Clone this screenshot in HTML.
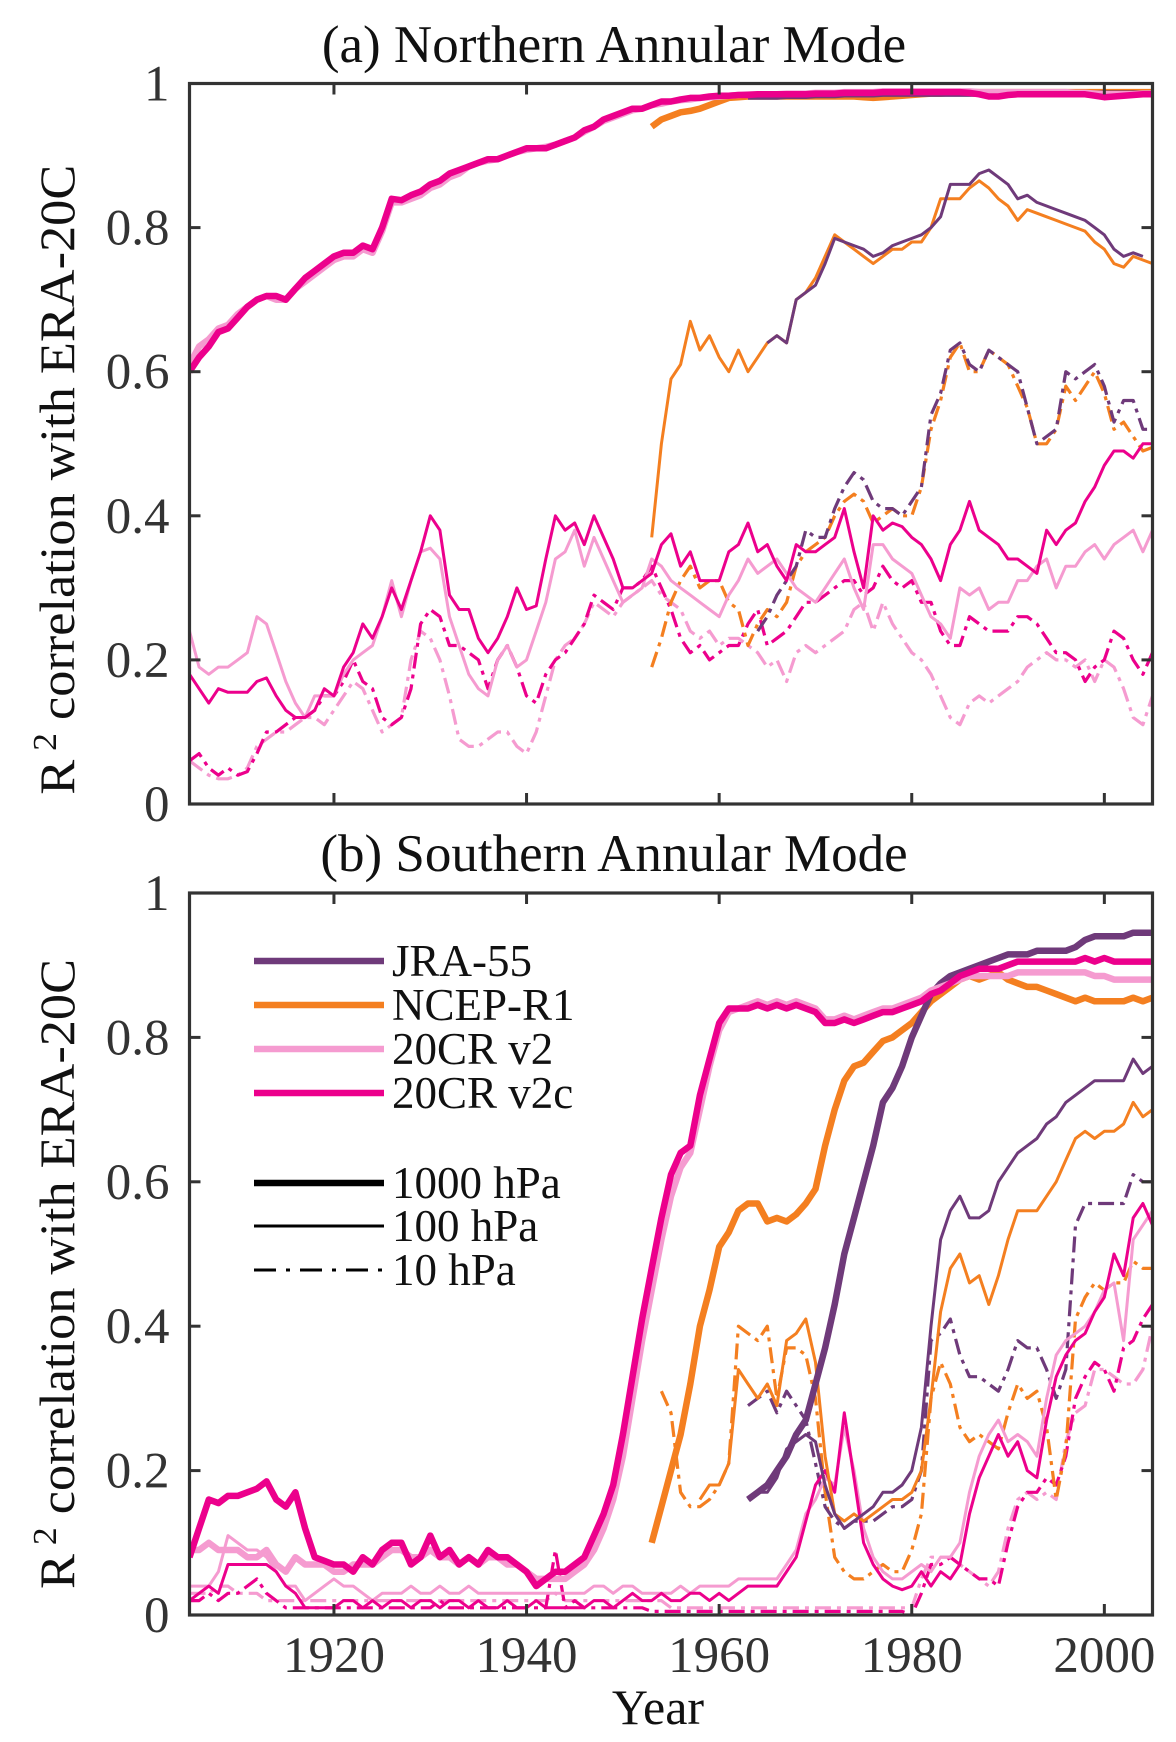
<!DOCTYPE html>
<html><head><meta charset="utf-8">
<style>
html,body{margin:0;padding:0;background:#fff;}
svg{display:block;font-family:"Liberation Serif","Times New Roman",serif;}
</style></head>
<body>
<svg id="fig" width="1176" height="1742" viewBox="0 0 1176 1742" xmlns="http://www.w3.org/2000/svg">
</svg>
<script>
// ---------- data ----------
const xTicks = [1920, 1940, 1960, 1980, 2000];
const yTicks = [0, 0.2, 0.4, 0.6, 0.8, 1];
const yTickLabels = ["0", "0.2", "0.4", "0.6", "0.8", "1"];
const datasets = ["JRA-55", "NCEP-R1", "20CR v2", "20CR v2c"];
const levels = ["1000 hPa", "100 hPa", "10 hPa"];

// Panel (a) NAM
const aStart = {jra1000:1963, jra100:1965, jra10:1964, ncep1000:1953, ncep100:1953, ncep10:1953, v21000:1905, v2100:1905, v210:1905, v2c1000:1905, v2c100:1905, v2c10:1905};
const a_v2c1000 = [0.60,0.62,0.635,0.655,0.66,0.675,0.69,0.70,0.705,0.705,0.70,0.715,0.73,0.74,0.75,0.76,0.765,0.765,0.775,0.77,0.80,0.84,0.838,0.845,0.85,0.86,0.865,0.875,0.88,0.885,0.89,0.895,0.895,0.90,0.905,0.91,0.91,0.91,0.915,0.92,0.925,0.935,0.94,0.95,0.955,0.96,0.965,0.965,0.97,0.975,0.975,0.978,0.98,0.98,0.982,0.983,0.983,0.984,0.984,0.985,0.985,0.985,0.985,0.985,0.985,0.986,0.986,0.986,0.987,0.987,0.987,0.987,0.988,0.988,0.988,0.988,0.988,0.988,0.988,0.988,0.988,0.987,0.985,0.982,0.982,0.984,0.985,0.985,0.985,0.985,0.985,0.985,0.985,0.985,0.983,0.981,0.982,0.983,0.984,0.985,0.985];
const a_v21000 = [0.61,0.635,0.645,0.66,0.665,0.68,0.69,0.70,0.705,0.70,0.70,0.715,0.725,0.735,0.745,0.755,0.76,0.76,0.77,0.765,0.795,0.835,0.835,0.84,0.845,0.855,0.86,0.87,0.875,0.885,0.89,0.893,0.895,0.90,0.905,0.908,0.91,0.912,0.915,0.92,0.925,0.933,0.94,0.948,0.953,0.958,0.963,0.965,0.97,0.972,0.975,0.977,0.978,0.98,0.981,0.982,0.983,0.984,0.985,0.985,0.985,0.985,0.986,0.986,0.986,0.987,0.987,0.987,0.988,0.988,0.988,0.988,0.989,0.989,0.989,0.989,0.989,0.989,0.989,0.989,0.989,0.989,0.988,0.988,0.988,0.988,0.988,0.988,0.988,0.988,0.988,0.988,0.987,0.987,0.986,0.985,0.985,0.985,0.985,0.986,0.986];
const a_jra1000 = [0.982,0.982,0.982,0.982,0.983,0.983,0.983,0.984,0.984,0.984,0.985,0.985,0.985,0.985,0.986,0.986,0.986,0.986,0.986,0.986,0.986,0.986,0.986,0.986,0.986,0.986,0.986,0.986,0.986,0.986,0.986,0.986,0.986,0.986,0.986,0.986,0.986,0.986,0.986,0.986,0.986,0.986,0.986];
const a_ncep1000 = [0.94,0.95,0.955,0.96,0.962,0.965,0.97,0.975,0.98,0.981,0.982,0.982,0.982,0.982,0.982,0.982,0.982,0.982,0.982,0.982,0.982,0.982,0.981,0.98,0.981,0.982,0.983,0.984,0.985,0.986,0.986,0.987,0.987,0.988,0.988,0.988,0.988,0.988,0.988,0.988,0.988,0.988,0.988,0.988,0.988,0.988,0.988,0.988,0.988,0.988,0.988,0.988,0.988];
const a_ncep100 = [0.37,0.50,0.59,0.61,0.67,0.63,0.65,0.62,0.60,0.63,0.60,0.62,0.64,0.65,0.64,0.70,0.71,0.73,0.76,0.79,0.78,0.77,0.76,0.75,0.76,0.77,0.77,0.78,0.78,0.80,0.84,0.84,0.84,0.855,0.865,0.855,0.84,0.83,0.81,0.825,0.82,0.815,0.81,0.805,0.80,0.795,0.78,0.77,0.75,0.745,0.76,0.755,0.75];
const a_jra100 = [0.64,0.65,0.64,0.70,0.71,0.72,0.75,0.785,0.78,0.775,0.77,0.76,0.765,0.775,0.78,0.785,0.79,0.80,0.815,0.86,0.86,0.86,0.875,0.88,0.87,0.86,0.84,0.845,0.835,0.83,0.825,0.82,0.815,0.81,0.80,0.79,0.77,0.76,0.765,0.76];
const a_v2c100 = [0.18,0.16,0.14,0.16,0.155,0.155,0.155,0.17,0.175,0.15,0.13,0.12,0.12,0.13,0.16,0.15,0.19,0.21,0.25,0.23,0.26,0.30,0.27,0.31,0.35,0.40,0.38,0.29,0.27,0.27,0.23,0.21,0.23,0.26,0.30,0.27,0.275,0.34,0.40,0.38,0.39,0.36,0.40,0.37,0.34,0.30,0.30,0.31,0.32,0.36,0.375,0.33,0.35,0.31,0.31,0.31,0.35,0.36,0.39,0.35,0.36,0.33,0.31,0.36,0.35,0.35,0.36,0.37,0.41,0.35,0.30,0.40,0.38,0.39,0.385,0.37,0.36,0.34,0.31,0.36,0.38,0.42,0.38,0.37,0.36,0.34,0.34,0.33,0.32,0.38,0.36,0.38,0.39,0.42,0.44,0.47,0.49,0.49,0.48,0.50,0.50];
const a_v2100 = [0.24,0.19,0.18,0.19,0.19,0.20,0.21,0.26,0.25,0.21,0.17,0.14,0.12,0.15,0.15,0.15,0.18,0.20,0.21,0.22,0.26,0.31,0.26,0.31,0.35,0.355,0.34,0.26,0.22,0.18,0.16,0.15,0.20,0.22,0.19,0.20,0.24,0.28,0.34,0.35,0.38,0.33,0.37,0.34,0.31,0.28,0.29,0.30,0.34,0.33,0.31,0.30,0.29,0.28,0.27,0.26,0.29,0.31,0.34,0.32,0.33,0.34,0.32,0.30,0.29,0.28,0.30,0.32,0.34,0.30,0.27,0.36,0.36,0.34,0.33,0.32,0.29,0.26,0.25,0.23,0.30,0.29,0.30,0.27,0.28,0.28,0.31,0.31,0.33,0.34,0.30,0.33,0.33,0.35,0.36,0.34,0.36,0.37,0.38,0.35,0.38];
const a_ncep10 = [0.19,0.23,0.28,0.31,0.33,0.30,0.31,0.31,0.28,0.27,0.22,0.25,0.27,0.26,0.28,0.33,0.35,0.36,0.37,0.40,0.42,0.43,0.42,0.39,0.40,0.41,0.40,0.40,0.44,0.52,0.56,0.62,0.64,0.60,0.60,0.63,0.62,0.61,0.58,0.55,0.50,0.50,0.52,0.58,0.56,0.58,0.60,0.57,0.52,0.53,0.51,0.49,0.495];
const a_jra10 = [0.24,0.26,0.29,0.31,0.33,0.38,0.37,0.37,0.41,0.44,0.46,0.45,0.42,0.41,0.41,0.40,0.42,0.44,0.54,0.57,0.63,0.64,0.61,0.60,0.63,0.62,0.61,0.60,0.55,0.50,0.51,0.52,0.60,0.59,0.60,0.61,0.58,0.53,0.56,0.56,0.52,0.52];
const a_v2c10 = [0.06,0.07,0.05,0.04,0.05,0.04,0.045,0.07,0.10,0.10,0.11,0.12,0.12,0.13,0.15,0.15,0.17,0.20,0.17,0.16,0.12,0.11,0.12,0.16,0.25,0.27,0.26,0.22,0.22,0.21,0.20,0.16,0.20,0.22,0.19,0.15,0.14,0.18,0.20,0.21,0.23,0.25,0.29,0.28,0.27,0.30,0.30,0.31,0.33,0.30,0.27,0.23,0.21,0.22,0.20,0.21,0.22,0.22,0.25,0.27,0.22,0.23,0.24,0.26,0.28,0.28,0.29,0.30,0.31,0.31,0.29,0.30,0.33,0.31,0.30,0.31,0.28,0.28,0.24,0.22,0.22,0.26,0.25,0.24,0.24,0.24,0.26,0.26,0.25,0.23,0.21,0.21,0.20,0.17,0.19,0.20,0.24,0.23,0.20,0.18,0.21];
const a_v210 = [0.06,0.05,0.04,0.035,0.035,0.04,0.05,0.08,0.09,0.10,0.10,0.11,0.12,0.12,0.11,0.13,0.15,0.17,0.16,0.13,0.10,0.11,0.12,0.20,0.24,0.23,0.20,0.15,0.09,0.08,0.08,0.09,0.10,0.10,0.08,0.07,0.10,0.15,0.20,0.22,0.23,0.25,0.28,0.27,0.26,0.28,0.29,0.30,0.31,0.29,0.28,0.27,0.24,0.23,0.24,0.22,0.23,0.23,0.22,0.21,0.19,0.20,0.17,0.21,0.22,0.21,0.22,0.23,0.24,0.27,0.28,0.24,0.28,0.25,0.23,0.21,0.20,0.18,0.15,0.12,0.11,0.14,0.15,0.14,0.15,0.16,0.17,0.19,0.20,0.21,0.20,0.20,0.19,0.20,0.17,0.20,0.19,0.16,0.12,0.11,0.15];

// Panel (b) SAM
const bStart = {jra1000:1963, jra100:1963, jra10:1963, ncep1000:1953, ncep100:1958, ncep10:1954, v21000:1905, v2100:1905, v210:1905, v2c1000:1905, v2c100:1905, v2c10:1905};
const b_v2c1000 = [0.08,0.12,0.16,0.155,0.165,0.165,0.17,0.175,0.185,0.16,0.15,0.17,0.12,0.08,0.075,0.07,0.07,0.06,0.08,0.07,0.09,0.10,0.10,0.07,0.08,0.11,0.08,0.09,0.07,0.08,0.07,0.09,0.08,0.08,0.07,0.06,0.04,0.05,0.06,0.06,0.07,0.08,0.11,0.14,0.18,0.25,0.33,0.41,0.48,0.55,0.61,0.64,0.65,0.72,0.77,0.82,0.84,0.84,0.84,0.845,0.84,0.845,0.84,0.845,0.84,0.835,0.82,0.82,0.825,0.82,0.825,0.83,0.835,0.835,0.84,0.845,0.85,0.86,0.865,0.875,0.885,0.89,0.895,0.895,0.895,0.90,0.905,0.905,0.905,0.905,0.905,0.905,0.905,0.91,0.905,0.91,0.905,0.905,0.905,0.905,0.905];
const b_v21000 = [0.09,0.09,0.10,0.09,0.09,0.09,0.08,0.08,0.09,0.07,0.06,0.08,0.07,0.07,0.07,0.06,0.06,0.07,0.07,0.07,0.08,0.09,0.09,0.08,0.08,0.09,0.08,0.08,0.07,0.08,0.07,0.08,0.08,0.07,0.07,0.06,0.05,0.05,0.05,0.05,0.06,0.07,0.09,0.12,0.16,0.22,0.30,0.38,0.45,0.52,0.58,0.62,0.64,0.70,0.76,0.81,0.835,0.84,0.845,0.85,0.845,0.85,0.845,0.85,0.845,0.84,0.825,0.825,0.83,0.825,0.83,0.835,0.84,0.84,0.845,0.85,0.855,0.865,0.87,0.875,0.88,0.885,0.885,0.885,0.885,0.885,0.89,0.89,0.89,0.89,0.89,0.89,0.89,0.89,0.885,0.885,0.88,0.88,0.88,0.88,0.88];
const b_ncep1000 = [0.10,0.15,0.20,0.25,0.32,0.40,0.45,0.51,0.53,0.56,0.57,0.57,0.545,0.55,0.545,0.555,0.57,0.59,0.65,0.70,0.74,0.76,0.765,0.78,0.795,0.80,0.81,0.82,0.835,0.85,0.86,0.87,0.88,0.885,0.88,0.885,0.89,0.88,0.875,0.87,0.87,0.865,0.86,0.855,0.85,0.855,0.85,0.85,0.85,0.85,0.855,0.85,0.855];
const b_jra1000 = [0.16,0.17,0.18,0.20,0.22,0.25,0.27,0.32,0.37,0.43,0.50,0.55,0.60,0.65,0.71,0.73,0.76,0.80,0.83,0.86,0.875,0.885,0.89,0.895,0.90,0.905,0.91,0.915,0.915,0.915,0.92,0.92,0.92,0.92,0.925,0.935,0.94,0.94,0.94,0.94,0.945,0.945,0.945];
const b_ncep100 = [0.16,0.18,0.18,0.21,0.34,0.32,0.30,0.32,0.29,0.38,0.39,0.41,0.35,0.22,0.14,0.13,0.14,0.13,0.14,0.15,0.16,0.16,0.17,0.20,0.30,0.42,0.48,0.50,0.46,0.47,0.43,0.47,0.52,0.56,0.56,0.56,0.58,0.60,0.63,0.66,0.67,0.66,0.67,0.67,0.68,0.71,0.69,0.70];
const b_jra100 = [0.16,0.17,0.17,0.19,0.23,0.24,0.25,0.24,0.18,0.14,0.12,0.13,0.14,0.15,0.17,0.17,0.18,0.20,0.26,0.40,0.52,0.56,0.58,0.55,0.55,0.56,0.60,0.62,0.64,0.65,0.66,0.68,0.69,0.71,0.72,0.73,0.74,0.74,0.74,0.74,0.77,0.75,0.76];
const b_v2c100 = [0.02,0.03,0.04,0.03,0.07,0.07,0.07,0.07,0.07,0.06,0.04,0.03,0.01,0.01,0.01,0.01,0.02,0.02,0.01,0.02,0.01,0.02,0.02,0.01,0.02,0.02,0.01,0.02,0.02,0.01,0.02,0.01,0.01,0.02,0.01,0.01,0.02,0.01,0.01,0.01,0.01,0.01,0.02,0.02,0.01,0.02,0.03,0.02,0.02,0.03,0.02,0.02,0.03,0.03,0.02,0.03,0.02,0.03,0.04,0.04,0.04,0.04,0.06,0.08,0.13,0.18,0.20,0.17,0.28,0.19,0.10,0.07,0.05,0.04,0.035,0.04,0.06,0.04,0.06,0.05,0.07,0.14,0.19,0.22,0.25,0.22,0.24,0.20,0.19,0.27,0.33,0.36,0.38,0.39,0.42,0.44,0.50,0.47,0.55,0.57,0.54,0.54,0.56,0.54,0.56];
const b_v2100 = [0.04,0.04,0.04,0.06,0.11,0.10,0.09,0.09,0.08,0.06,0.04,0.04,0.02,0.03,0.04,0.05,0.04,0.04,0.03,0.02,0.03,0.03,0.03,0.04,0.03,0.03,0.04,0.03,0.03,0.04,0.03,0.03,0.03,0.03,0.03,0.03,0.03,0.03,0.03,0.03,0.03,0.03,0.04,0.04,0.03,0.04,0.04,0.03,0.03,0.03,0.03,0.04,0.03,0.04,0.04,0.04,0.04,0.05,0.05,0.05,0.05,0.05,0.07,0.09,0.14,0.16,0.19,0.18,0.26,0.20,0.12,0.08,0.06,0.05,0.05,0.06,0.07,0.06,0.08,0.08,0.10,0.17,0.22,0.25,0.27,0.24,0.25,0.24,0.22,0.30,0.36,0.38,0.39,0.40,0.42,0.45,0.46,0.38,0.52,0.54,0.56,0.55,0.56,0.58,0.60];
const b_ncep10 = [0.31,0.28,0.17,0.15,0.15,0.16,0.18,0.21,0.40,0.39,0.38,0.40,0.30,0.37,0.37,0.36,0.30,0.17,0.08,0.06,0.05,0.05,0.06,0.07,0.06,0.06,0.09,0.14,0.30,0.35,0.32,0.26,0.24,0.25,0.24,0.23,0.28,0.32,0.30,0.31,0.26,0.16,0.23,0.41,0.44,0.46,0.45,0.46,0.46,0.49,0.48,0.48];
const b_jra10 = [0.29,0.30,0.31,0.28,0.31,0.29,0.27,0.21,0.15,0.13,0.12,0.13,0.13,0.13,0.14,0.15,0.15,0.16,0.20,0.38,0.39,0.41,0.36,0.33,0.33,0.32,0.31,0.34,0.38,0.37,0.37,0.34,0.30,0.34,0.54,0.57,0.57,0.57,0.57,0.57,0.61,0.60,0.60];
const b_v2c10 = [0.02,0.02,0.03,0.02,0.03,0.03,0.04,0.05,0.03,0.02,0.01,0.01,0.01,0.01,0.01,0.01,0.01,0.01,0.01,0.01,0.01,0.01,0.01,0.01,0.01,0.01,0.02,0.01,0.01,0.01,0.01,0.01,0.01,0.01,0.01,0.01,0.01,0.01,0.09,0.01,0.02,0.01,0.01,0.01,0.01,0.01,0.01,0.01,0.005,0.005,0.005,0.005,0.005,0.005,0.005,0.005,0.005,0.005,0.005,0.005,0.005,0.005,0.005,0.005,0.005,0.005,0.005,0.005,0.005,0.005,0.005,0.005,0.005,0.005,0.005,0.0,0.03,0.07,0.07,0.08,0.07,0.06,0.05,0.05,0.04,0.10,0.15,0.17,0.17,0.19,0.18,0.22,0.30,0.33,0.35,0.34,0.31,0.37,0.38,0.41,0.43];
const b_v210 = [0.03,0.03,0.03,0.04,0.04,0.03,0.03,0.03,0.02,0.02,0.02,0.02,0.02,0.02,0.02,0.02,0.02,0.02,0.02,0.02,0.02,0.02,0.02,0.02,0.02,0.02,0.02,0.02,0.02,0.02,0.02,0.02,0.02,0.02,0.02,0.02,0.02,0.02,0.03,0.02,0.02,0.02,0.02,0.02,0.02,0.02,0.02,0.02,0.02,0.02,0.01,0.01,0.01,0.01,0.01,0.01,0.01,0.01,0.01,0.01,0.01,0.01,0.01,0.01,0.01,0.01,0.01,0.01,0.01,0.01,0.01,0.01,0.01,0.01,0.01,0.01,0.05,0.08,0.08,0.08,0.07,0.06,0.05,0.04,0.06,0.12,0.16,0.17,0.16,0.17,0.16,0.24,0.28,0.29,0.34,0.34,0.33,0.32,0.32,0.34,0.40];

// ---------- layout ----------
const NS = "http://www.w3.org/2000/svg";
const svg = document.getElementById("fig");
const X0 = 189.5, X1 = 1152.5, YEAR0 = 1905, YEAR1 = 2005;
const panels = [
  {id:"a", top:83.5, bottom:804, title:"(a) Northern Annular Mode", titleY:62, d:{jra1000:a_jra1000,jra100:a_jra100,jra10:a_jra10,ncep1000:a_ncep1000,ncep100:a_ncep100,ncep10:a_ncep10,v21000:a_v21000,v2100:a_v2100,v210:a_v210,v2c1000:a_v2c1000,v2c100:a_v2c100,v2c10:a_v2c10}, s:aStart},
  {id:"b", top:893, bottom:1615, title:"(b) Southern Annular Mode", titleY:871, d:{jra1000:b_jra1000,jra100:b_jra100,jra10:b_jra10,ncep1000:b_ncep1000,ncep100:b_ncep100,ncep10:b_ncep10,v21000:b_v21000,v2100:b_v2100,v210:b_v210,v2c1000:b_v2c1000,v2c100:b_v2c100,v2c10:b_v2c10}, s:bStart}
];
const colors = {jra:"#6f3a7a", ncep:"#f47f20", v2:"#f59bd0", v2c:"#ec008c"};
const widths = {"1000":6.5, "100":3, "10":3.2};
const dash = {"1000":null, "100":null, "10":"16 6 4 6"};

function xScale(yr){ return X0 + (yr - YEAR0) / (YEAR1 - YEAR0) * (X1 - X0); }
function mk(tag, attrs, parent){ const e = document.createElementNS(NS, tag); for (const k in attrs) e.setAttribute(k, attrs[k]); (parent||svg).appendChild(e); return e; }

panels.forEach(p => {
  const yScale = v => p.bottom - v * (p.bottom - p.top);
  const g = mk("g", {});
  
  
  const clipId = "clip" + p.id;
  const cp = mk("clipPath", {id:clipId}, g);
  mk("rect", {x:X0, y:p.top, width:X1-X0, height:p.bottom-p.top}, cp);
  const series = mk("g", {"clip-path":"url(#"+clipId+")"}, g);
  
  
  const order = ["10","100","1000"];
  const dsOrder = ["v2","v2c","ncep","jra"];
  order.forEach(lv => {
    const dl = lv === "1000" ? ["ncep","jra","v2","v2c"] : dsOrder;
    dl.forEach(ds => {
      const key = ds + lv;
      const vals = p.d[key];
      const start = p.s[key];
      const pts = vals.map((v,i) => xScale(start + i).toFixed(1) + "," + yScale(v).toFixed(1));
      const pl = mk("polyline", {points: pts.join(" "), fill:"none", stroke:colors[ds], "stroke-width":widths[lv], "stroke-linejoin":"round"}, series);
      if (dash[lv]) pl.setAttribute("stroke-dasharray", dash[lv]);
      
      
    });
  });
  const box = mk("rect", {x:X0, y:p.top, width:X1-X0, height:p.bottom-p.top, fill:"none", stroke:"#333", "stroke-width":3.2}, g);
  
  
  yTicks.forEach((t,i) => {
    const y = yScale(t);
    mk("line", {x1:X0, x2:X0+11, y1:y, y2:y, stroke:"#333", "stroke-width":3}, g);
    mk("line", {x1:X1, x2:X1-11, y1:y, y2:y, stroke:"#333", "stroke-width":3}, g);
    const tx = mk("text", {x:X0-20, y:y+17, "text-anchor":"end", "font-size":51, fill:"#333"}, g);
    tx.textContent = yTickLabels[i];
    
    
  });
  xTicks.forEach(t => {
    const x = xScale(t);
    mk("line", {x1:x, x2:x, y1:p.bottom, y2:p.bottom-11, stroke:"#333", "stroke-width":3}, g);
    mk("line", {x1:x, x2:x, y1:p.top, y2:p.top+11, stroke:"#333", "stroke-width":3}, g);
    if (p.id === "b") {
      const tx = mk("text", {x:x, y:1672, "text-anchor":"middle", "font-size":51, fill:"#333"}, g);
      tx.textContent = String(t);
      
      
    }
  });
  const tt = mk("text", {x:614, y:p.titleY, "text-anchor":"middle", "font-size":53, fill:"#111"}, g);
  tt.textContent = p.title;
  
  
  const cy = (p.top + p.bottom) / 2 + (p.id === "a" ? 36 : 20);
  const yl = mk("text", {transform:"translate(74," + cy + ") rotate(-90)", "text-anchor":"middle", "font-size":50, fill:"#111", textLength:630, lengthAdjust:"spacingAndGlyphs"}, g);
  yl.innerHTML = 'R<tspan dy="-18" font-size="34"> 2</tspan><tspan dy="18"> correlation with ERA-20C</tspan>';
  
  
});

const xt = mk("text", {x:658, y:1724, "text-anchor":"middle", "font-size":50, fill:"#111"});
xt.textContent = "Year";



const leg = mk("g", {});


const legKeys = ["jra","ncep","v2","v2c"];
const legY = [961, 1005, 1049, 1093];
datasets.forEach((name,i) => {
  const ln = mk("line", {x1:254, x2:384, y1:legY[i], y2:legY[i], stroke:colors[legKeys[i]], "stroke-width":6.5}, leg);
  
  
  const t = mk("text", {x:392, y:legY[i]+15, "font-size":45, fill:"#111"}, leg);
  t.textContent = name;
  
  
});
const lvY = [1183, 1226, 1270];
const lvKeys = ["1000","100","10"];
levels.forEach((name,i) => {
  const ln = mk("line", {x1:254, x2:384, y1:lvY[i], y2:lvY[i], stroke:"#000", "stroke-width":lvKeys[i]==="1000"?6.5:3}, leg);
  if (dash[lvKeys[i]]) ln.setAttribute("stroke-dasharray", "22 10 4 10");
  
  
  const t = mk("text", {x:392, y:lvY[i]+15, "font-size":45, fill:"#111"}, leg);
  t.textContent = name;
  
  
});
</script>
</body></html>
